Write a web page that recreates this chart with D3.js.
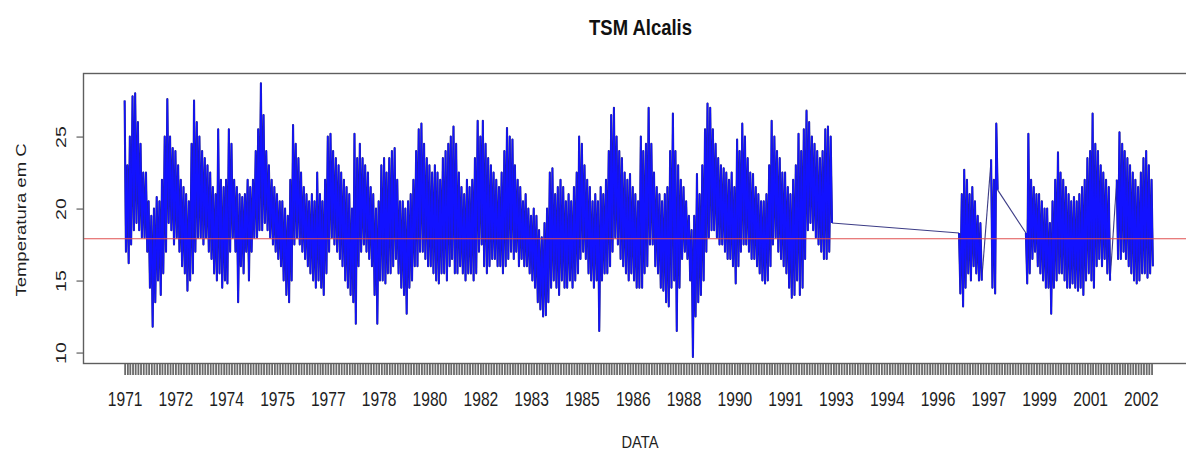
<!DOCTYPE html>
<html>
<head>
<meta charset="utf-8">
<script src="https://cdn.jsdelivr.net/npm/d3@7"></script>
<style>
  html, body { margin: 0; padding: 0; background: #fff; }
  svg { display: block; font-family: "Liberation Sans", Arial, sans-serif; }
</style>
</head>
<body>
<svg id="chart" width="1186" height="451"></svg>
<script>
// Sea surface temperature at Alcalis, monthly maximum and minimum readings (°C),
// one entry per month starting January 1971; null marks months without records.
const firstYear = 1971;
const noData = n => Array(n).fill(null);

const tempMax = [
  27.5, 23, 25, 27.8, 28.0, 26, 24.5, 22.5, 22.5, 20.5,
  19.5, 20, 20.8, 20.5, 22, 25, 27.6, 25, 24.2, 24,
  23, 22, 21.5, 21, 20.5, 24.5, 27.5, 26, 25, 24,
  23.5, 23, 22.5, 21.5, 21, 25.5, 22, 21.5, 22, 25.5,
  24.5, 22, 21.5, 21, 20.8, 21, 22, 21.5, 22, 24,
  25.5, 28.7, 26.5, 24, 23, 22, 21.5, 21, 20.5, 20.5,
  20, 19.5, 22, 25.8, 24.5, 23.5, 22.5, 21.5, 21, 20.5,
  21, 20.5, 22.5, 21, 20.5, 22, 25, 25.2, 24, 23.5,
  23, 22.5, 22, 21.5, 21, 20, 25.2, 23.5, 24.5, 23.5,
  23, 22.5, 21.5, 21, 20, 20.5, 23, 23.5, 22.5, 23.5,
  24, 24.2, 22, 20.5, 20.5, 20, 20.5, 21, 22, 24,
  25.5, 25.9, 24.5, 23.5, 23, 22.5, 23, 22.5, 22, 23.5,
  24, 24.5, 25, 25.7, 24.5, 22.5, 21.5, 21, 22, 21.5,
  22, 23.5, 26.1, 25, 26.1, 24.5, 23.5, 23, 22.5, 22,
  21.5, 22.5, 24, 25.6, 25, 24.8, 23, 22, 21.5, 20.5,
  21, 20, 19.5, 20, 19.5, 18.5, 18, 19, 20, 22.5,
  22.8, 21, 21.5, 22, 21.5, 20.5, 21, 20.5, 21.5, 22.5,
  25, 24.5, 23, 22, 21.5, 20.5, 21, 20.5, 21.5, 21,
  22, 24, 26.5, 27, 25, 24, 23.5, 22.5, 22, 22.4,
  21.5, 21, 20.5, 25, 24, 24.5, 27, 24.5, 22.5, 21.5,
  21, 20.5, 21, 21.5, 24, 26.6, 24, 23, 22, 21.5,
  20.5, 19.5, 18.5, 19.5, 22.4, 21, 23, 25.5, 27.3, 27,
  25.5, 24.5, 23.5, 23, 22.8, 22.5, 22, 22.5, 21.5, 24.8,
  24, 25.9, 25, 23.5, 22.5, 22.4, 21.5, 21, 20.5, 20.5,
  21, 23, 26.1, 25, 24, 23.5, 22.5, 22.5, 21.5, 21,
  22, 23, 25.2, 24, 25.5, 26.8, 26, 25, 24.5, 24,
  23.5, 24, 25.5, 25.7, 25,
  ...noData(47),
  18.3, 21, 22.7, 22, 21, 21.5, 20.5, 19.5, 19,
  ...noData(3),
  23.4, 22, 25.9,
  ...noData(10),
  18.3, 25.2, 22, 21.5, 21, 21, 20.5, 20, 20, 19,
  20.5, 22, 23.9, 22.5, 22, 21.5, 21, 20.5, 20.8, 20.5,
  21, 21.5, 22, 23.5, 24, 26.6, 24.5, 24, 23, 22.5,
  22, 21.5,
  ...noData(2),
  22, 25.3, 24.5, 24, 23.5, 23, 22.5, 22, 21.5, 22.5,
  23.5, 24, 23, 22
];

const tempMin = [
  17.0, 16.2, 17.5, 18.5, 19, 18.5, 18, 18, 17, 14.5,
  11.8, 13.5, 15, 14, 15.5, 17, 19, 18.5, 17.5, 18,
  17, 16, 15.5, 14.3, 15, 15.5, 17, 18, 18, 17.5,
  18, 17, 16.5, 15.5, 15, 15.5, 14.5, 15, 14.8, 17,
  18, 17, 13.5, 16, 15.5, 17, 15, 17, 18, 18,
  18.5, 18.5, 19, 18.5, 18, 17.5, 17, 16.5, 16, 15,
  14, 13.5, 15, 17.5, 18, 17.5, 17, 16.5, 16, 15.5,
  15, 14.5, 15, 14.5, 14, 15.5, 17, 18, 17.5, 17,
  16.5, 16, 15, 14.5, 14, 13.5, 12, 16, 17, 17.5,
  17, 16.5, 16, 14, 12, 15, 15, 14.8, 15.5, 15.5,
  16, 16.5, 15.5, 14.5, 14, 12.7, 14.5, 15, 16, 16,
  17, 17, 16.5, 16, 16, 15.5, 15, 14.8, 15.5, 15.5,
  15, 16, 16.5, 15.5, 15.5, 16, 15.5, 15, 15.5, 15.5,
  15, 15.5, 17, 17.5, 16, 15.5, 16, 16.5, 16.5, 16,
  16, 15.5, 16, 16.5, 17, 16.5, 17, 16, 16.5, 16,
  16, 15.5, 15, 14.5, 13.5, 13, 12.5, 12.6, 13.5, 14.5,
  15, 14.5, 14, 15, 14.5, 14.5, 15, 14.5, 15, 15.5,
  16.5, 17, 16.5, 15.5, 15, 14.5, 15, 11.5, 15, 15.5,
  15.5, 16, 17, 18, 17.5, 16.5, 16, 15.5, 15, 15.5,
  15, 14.5, 14.5, 14.5, 15.5, 16, 17.5, 17.5, 16, 15.5,
  14.5, 14.3, 13.5, 13.2, 14.5, 15, 11.5, 14.5, 16.5, 17,
  16.5, 15, 9.7, 12.5, 13.5, 14, 15, 17, 18, 18.5,
  18.5, 18, 17.5, 17.5, 17, 16.5, 16.5, 16, 14.8, 16,
  17, 17.5, 17.5, 17, 16.5, 16.5, 16, 15.5, 15, 14.8,
  15, 16, 17.5, 18, 17, 16.5, 16, 15.5, 14.5, 13.8,
  14, 15, 14, 14.5, 16.5, 18.5, 19, 18.5, 18, 17.5,
  17, 16.5, 16.5, 17, 19,
  ...noData(47),
  14.1, 13.2, 14.5, 15.5, 15, 16, 15.5, 15, 15.0,
  ...noData(3),
  14.5, 14.1, 21.3,
  ...noData(10),
  14.8, 15.5, 16.5, 17, 16, 15.5, 15, 14.5, 14.5, 12.7,
  14.5, 15, 15.5, 15.5, 15, 14.5, 14.5, 14.8, 14.5, 14.3,
  14.5, 14, 15, 15.5, 15, 14.5, 16, 16.5, 16, 16.5,
  15.5, 15,
  ...noData(2),
  16.5, 16.5, 17, 16.5, 16, 15.5, 15, 14.8, 15, 15.5,
  15.5, 15.2, 15.5, 16
];

const meanTemp = 17.9;
const yTicks = [10, 15, 20, 25];
const xTickLabels = ["1971", "1972", "1974", "1975", "1977", "1978", "1980", "1982",
  "1983", "1985", "1986", "1988", "1990", "1991", "1993", "1994", "1996", "1997",
  "1999", "2001", "2002"];
const labelEvery = 19; // one year label every 19 monthly ticks

const titleText = "TSM Alcalis";
const xTitle = "DATA";
const yTitle = "Temperatura em C";

// ---------------------------------------------------------------------------
const plot = { left: 83.5, right: 1194, top: 73.5, bottom: 363.5 };
const svg = d3.select("#chart");

// two readings per month: the maximum early in the month, the minimum mid-month.
// Consecutive months form a run; runs are joined across missing months.
const runs = [];
let current = null;
tempMax.forEach((hi, m) => {
  if (hi == null) { current = null; return; }
  if (!current) { current = []; runs.push(current); }
  current.push({ date: new Date(Date.UTC(firstYear, m, 1)), v: hi });
  current.push({ date: new Date(Date.UTC(firstYear, m, 16)), v: tempMin[m] });
});
const points = runs.flat();
const bridges = d3.pairs(runs).map(([a, b]) => [a[a.length - 1], b[0]]);

const [t0, t1] = d3.extent(points, d => d.date);
const pad = (t1 - t0) * 0.04;
const x = d3.scaleUtc()
  .domain([new Date(+t0 - pad), new Date(+t1 + pad)])
  .range([plot.left, plot.right]);
const y = d3.scaleLinear()
  .domain([9.24, 29.38])
  .range([plot.bottom, plot.top]);

svg.append("defs").append("clipPath").attr("id", "plotClip")
  .append("rect")
  .attr("x", plot.left).attr("y", plot.top)
  .attr("width", plot.right - plot.left).attr("height", plot.bottom - plot.top);

const line = d3.line().x(d => x(d.date)).y(d => y(d.v));
const series = svg.append("g").attr("clip-path", "url(#plotClip)");

// straight joins across months with no records
series.selectAll("path.bridge").data(bridges).join("path")
  .attr("class", "bridge")
  .attr("d", line)
  .attr("fill", "none")
  .attr("stroke", "#3c3c86")
  .attr("stroke-width", 1.1);

// dense monthly runs: dark halo under a bright blue stroke
series.selectAll("path.halo").data(runs).join("path")
  .attr("class", "halo")
  .attr("d", line)
  .attr("fill", "none")
  .attr("stroke", "#2a2a78")
  .attr("stroke-width", 2.1)
  .attr("stroke-linejoin", "round");
series.selectAll("path.run").data(runs).join("path")
  .attr("class", "run")
  .attr("d", line)
  .attr("fill", "none")
  .attr("stroke", "#1212ff")
  .attr("stroke-width", 1.5)
  .attr("stroke-linejoin", "round");

// long-term mean
series.append("line")
  .attr("x1", plot.left).attr("x2", plot.right)
  .attr("y1", y(meanTemp)).attr("y2", y(meanTemp))
  .attr("stroke", "#e05050")
  .attr("stroke-width", 1.1);

// plot frame
svg.append("rect")
  .attr("x", plot.left).attr("y", plot.top)
  .attr("width", plot.right - plot.left).attr("height", plot.bottom - plot.top)
  .attr("fill", "none")
  .attr("stroke", "#5e5e5e")
  .attr("stroke-width", 1.4);

// x axis: a tick for every month, a year label every 19th tick
const monthTicks = d3.utcMonth.range(t0, new Date(+t1 + 1));
const xAxis = d3.axisBottom(x)
  .tickValues(monthTicks)
  .tickSize(11)
  .tickFormat((d, i) => (i % labelEvery === 0 ? (xTickLabels[i / labelEvery] || "") : ""));
const gx = svg.append("g")
  .attr("transform", `translate(0,${plot.bottom + 0.5})`)
  .call(xAxis);
gx.select(".domain").remove();
gx.selectAll(".tick line").attr("stroke", "#6a6a6a").attr("stroke-width", 1.8);
gx.selectAll(".tick text")
  .attr("y", 406 - plot.bottom - 0.5)
  .attr("dy", 0)
  .attr("transform", "scale(0.8,1)")
  .attr("fill", "#1e1e1e")
  .style("font-size", "19.5px");

// y axis
const yAxis = d3.axisLeft(y).tickValues(yTicks).tickSize(7);
const gy = svg.append("g")
  .attr("transform", `translate(${plot.left},0)`)
  .call(yAxis);
gy.select(".domain").remove();
gy.selectAll(".tick line").attr("stroke", "#5e5e5e").attr("stroke-width", 1.2);
gy.selectAll(".tick text")
  .attr("x", null)
  .attr("dy", 0)
  .attr("text-anchor", "middle")
  .attr("transform", `translate(${65.5 - plot.left},0) rotate(-90) scale(1,0.78)`)
  .attr("fill", "#1e1e1e")
  .style("font-size", "19.5px");

// titles
svg.append("text")
  .attr("transform", "translate(640.5,35) scale(0.84,1)")
  .attr("text-anchor", "middle")
  .attr("font-weight", "bold")
  .attr("fill", "#111")
  .style("font-size", "22px")
  .text(titleText);

svg.append("text")
  .attr("transform", "translate(640,448) scale(0.89,1)")
  .attr("text-anchor", "middle")
  .attr("fill", "#1e1e1e")
  .style("font-size", "16.5px")
  .text(xTitle);

svg.append("text")
  .attr("transform", "translate(26,220) rotate(-90) scale(1,0.76)")
  .attr("text-anchor", "middle")
  .attr("fill", "#1e1e1e")
  .style("font-size", "18.5px")
  .text(yTitle);
</script>
</body>
</html>
